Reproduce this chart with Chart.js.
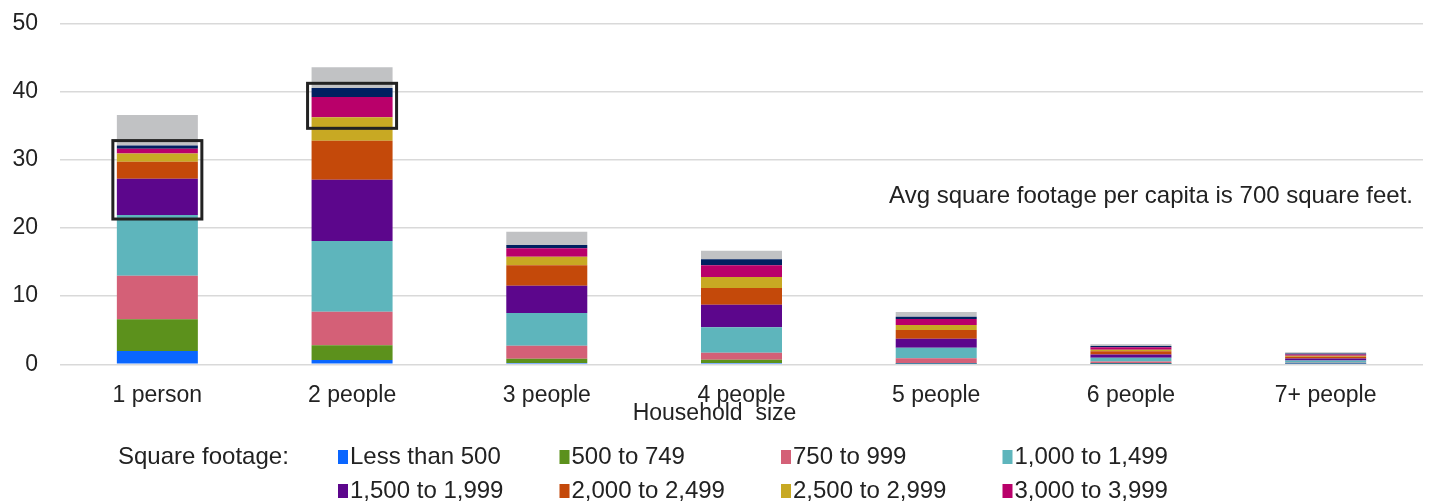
<!DOCTYPE html>
<html>
<head>
<meta charset="utf-8">
<script src="https://cdn.jsdelivr.net/npm/chart.js@4.4.1/dist/chart.umd.min.js"></script>
<style>
  html, body { margin: 0; padding: 0; background: #ffffff; overflow: hidden; }
  #wrap { width: 1430px; height: 501px; position: relative; }
</style>
</head>
<body>
<div id="wrap"><canvas id="chart" width="1430" height="501"></canvas></div>
<script>
// Households (millions) by household size, stacked by square footage of the home
const householdSizes = ['1 person', '2 people', '3 people', '4 people', '5 people', '6 people', '7+ people'];

const footageBands = [
  'Less than 500', '500 to 749', '750 to 999', '1,000 to 1,499', '1,500 to 1,999',
  '2,000 to 2,499', '2,500 to 2,999', '3,000 to 3,999', '4,000 or more', 'Not reported'
];

const lessThan500    = [1.95, 0.63, 0.20, 0.19, 0.05, 0.05, 0.03];
const from500to749   = [4.65, 2.16, 0.62, 0.48, 0.10, 0.15, 0.07];
const from750to999   = [6.40, 4.92, 1.91, 1.03, 0.73, 0.20, 0.12];
const from1000to1499 = [8.90, 10.37, 4.79, 3.73, 1.55, 0.55, 0.33];
const from1500to1999 = [5.30, 8.99, 4.00, 3.31, 1.32, 0.50, 0.30];
const from2000to2499 = [2.50, 5.72, 3.00, 2.45, 1.28, 0.45, 0.25];
const from2500to2999 = [1.20, 3.43, 1.26, 1.61, 0.73, 0.25, 0.15];
const from3000to3999 = [0.70, 2.97, 1.22, 1.72, 0.88, 0.35, 0.20];
const from4000up     = [0.50, 1.32, 0.48, 0.88, 0.34, 0.18, 0.12];
const notReported    = [4.45, 3.04, 1.94, 1.26, 0.69, 0.25, 0.19];

const yTicks = [0, 10, 20, 30, 40, 50];

// Highlighted stack ranges (category index, value span)
const highlights = [
  { index: 0, from: 21.3, to: 32.8 },
  { index: 1, from: 34.6, to: 41.2 }
];

const noteText = 'Avg square footage per capita is 700 square feet.';
const legendTitle = 'Square footage:';
const axisTitle = 'Household  size';

const seriesValues = [
  lessThan500, from500to749, from750to999, from1000to1499, from1500to1999,
  from2000to2499, from2500to2999, from3000to3999, from4000up, notReported
];
const seriesColors = [
  '#0A66FF', '#5C911C', '#D46077', '#5EB5BC', '#5C068C',
  '#C4490A', '#C8A923', '#B9006A', '#002060', '#C1C2C4'
];

const FONT = '"Liberation Sans", Arial, sans-serif';
const TEXT = '#222222';

const datasets = seriesValues.map((vals, i) => ({
  label: footageBands[i],
  data: vals,
  backgroundColor: seriesColors[i],
  borderWidth: 0,
  categoryPercentage: 1,
  barPercentage: 0.416
}));

// Draws the highlight frames, axis title, the note and the grid legend
const extras = {
  id: 'extras',
  afterDatasetsDraw(chart) {
    const { ctx, scales: { y } } = chart;
    const meta = chart.getDatasetMeta(0);
    ctx.save();
    ctx.strokeStyle = '#222222';
    ctx.lineWidth = 3;
    highlights.forEach(h => {
      const bar = meta.data[h.index];
      const half = bar.width / 2 + 4;
      const top = y.getPixelForValue(h.to);
      const bottom = y.getPixelForValue(h.from);
      ctx.strokeRect(bar.x - half, top, half * 2, bottom - top);
    });
    ctx.restore();
  },
  afterDraw(chart) {
    const { ctx, scales: { y }, chartArea } = chart;
    ctx.save();
    ctx.fillStyle = TEXT;

    // axis title, sitting just under the category labels
    ctx.font = '23px ' + FONT;
    ctx.textAlign = 'center';
    ctx.textBaseline = 'middle';
    ctx.fillText(axisTitle, (chartArea.left + chartArea.right) / 2 - 27, chartArea.bottom + 49);

    ctx.font = '24px ' + FONT;
    ctx.textAlign = 'right';
    ctx.textBaseline = 'alphabetic';
    ctx.fillText(noteText, chartArea.right - 10, y.getPixelForValue(23.6));

    // legend
    ctx.textAlign = 'left';
    ctx.textBaseline = 'middle';
    const rowY = [457, 491, 525];
    ctx.fillText(legendTitle, 118, rowY[0]);
    const colX = 338, colW = 221.5;
    chart.data.datasets.forEach((ds, i) => {
      const r = Math.floor(i / 4), c = i % 4;
      const bx = colX + c * colW;
      const by = rowY[r];
      ctx.fillStyle = ds.backgroundColor;
      ctx.fillRect(bx, by - 7, 10, 14);
      ctx.fillStyle = TEXT;
      ctx.fillText(ds.label, bx + 12, by);
    });
    ctx.restore();
  }
};

new Chart(document.getElementById('chart'), {
  type: 'bar',
  data: { labels: householdSizes, datasets },
  options: {
    responsive: false,
    animation: false,
    layout: { padding: { top: 23.3, right: 7, bottom: 0, left: 0 } },
    plugins: {
      legend: { display: false },
      tooltip: { enabled: false }
    },
    scales: {
      x: {
        stacked: true,
        grid: { display: false, drawTicks: false },
        border: { display: false },
        ticks: { color: TEXT, font: { family: FONT, size: 23, lineHeight: 1 }, padding: 20, maxRotation: 0 },
        afterFit(scale) { scale.height = 501 - 364.3; }
      },
      y: {
        stacked: true,
        min: 0, max: 50,
        afterBuildTicks(scale) { scale.ticks = yTicks.map(v => ({ value: v })); },
        grid: { color: '#D9D9D9', lineWidth: 1.5, drawTicks: false },
        border: { display: false },
        ticks: { color: TEXT, font: { family: FONT, size: 23 }, padding: 22 },
        afterFit(scale) {
          scale.width = 60;
          scale.paddingTop = 0;
          scale.paddingBottom = 0;
        }
      }
    }
  },
  plugins: [extras]
});
</script>
</body>
</html>
